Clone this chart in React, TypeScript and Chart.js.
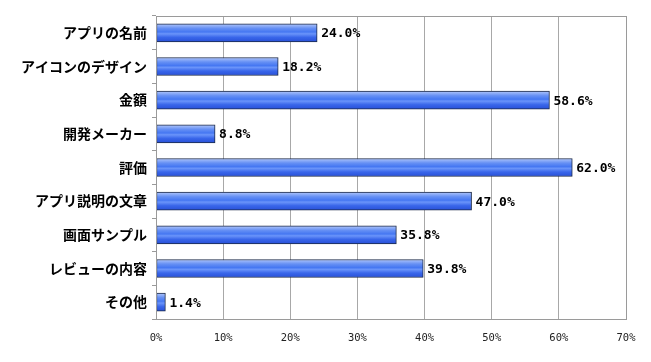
import React, { useEffect, useRef } from "react";
import { Chart, registerables } from "chart.js";

Chart.register(...registerables);

const categories = [
  "アプリの名前",
  "アイコンのデザイン",
  "金額",
  "開発メーカー",
  "評価",
  "アプリ説明の文章",
  "画面サンプル",
  "レビューの内容",
  "その他",
];
const values = [24.0, 18.2, 58.6, 8.8, 62.0, 47.0, 35.8, 39.8, 1.4];
const xTicksMax = 70;
const xTickStep = 10;

const BAR_T = 18;

const frame = {
  id: "frame",
  afterDraw(chart: any) {
    const { ctx, chartArea: a } = chart;
    ctx.save();
    ctx.strokeStyle = "#9a9a9a";
    ctx.lineWidth = 1;
    ctx.strokeRect(Math.round(a.left) + 0.5, Math.round(a.top) + 0.5, Math.round(a.right - a.left), Math.round(a.bottom - a.top));
    ctx.restore();
  },
};

const valueLabels = {
  id: "valueLabels",
  afterDatasetsDraw(chart: any) {
    const { ctx } = chart;
    const meta = chart.getDatasetMeta(0);
    ctx.save();
    ctx.fillStyle = "#000";
    ctx.font = "bold 13px 'DejaVu Sans Mono'";
    ctx.textAlign = "left";
    ctx.textBaseline = "middle";
    meta.data.forEach((bar: any, i: number) => {
      ctx.fillText(values[i].toFixed(1) + "%", bar.x + 4, bar.y + 1);
    });
    ctx.restore();
  },
};

export default function App() {
  const ref = useRef<HTMLCanvasElement>(null);
  useEffect(() => {
    const chart = new Chart(ref.current!, {
      type: "bar",
      data: {
        labels: categories,
        datasets: [
          {
            data: values,
            barThickness: BAR_T,
            borderColor: "#1c2a48",
            borderWidth: 1,
            borderSkipped: false,
            backgroundColor: (c: any) => {
              const ch = c.chart;
              const y = ch.scales?.y;
              if (!y || c.dataIndex === undefined) return "#4a78ee";
              const cy = y.getPixelForValue(c.dataIndex);
              if (!isFinite(cy)) return "#4a78ee";
              const g = ch.ctx.createLinearGradient(0, cy - BAR_T / 2, 0, cy + BAR_T / 2);
              g.addColorStop(0, "#b0c6fb");
              g.addColorStop(0.25, "#6690f4");
              g.addColorStop(0.45, "#4577f2");
              g.addColorStop(0.55, "#6a94fa");
              g.addColorStop(0.75, "#3966ea");
              g.addColorStop(1, "#2850d8");
              return g;
            },
          },
        ],
      },
      options: {
        indexAxis: "y",
        animation: false,
        responsive: true,
        maintainAspectRatio: false,
        layout: { padding: { top: 16, right: 25, left: 0, bottom: 0 } },
        plugins: { legend: { display: false }, tooltip: { enabled: false } },
        scales: {
          y: {
            afterFit: (s: any) => {
              s.width = 156;
            },
            grid: { drawOnChartArea: false, drawTicks: true, tickLength: 4, color: "#9a9a9a", offset: true },
            border: { color: "#9a9a9a" },
            ticks: {
              padding: 5,
              color: "#000",
              font: { family: "'Noto Sans CJK JP'", size: 14, weight: "bold" },
            },
          },
          x: {
            min: 0,
            max: xTicksMax,
            afterFit: (s: any) => {
              s.height = 43;
            },
            grid: { color: "#a8a8a8", drawTicks: false },
            border: { color: "#9a9a9a" },
            ticks: {
              stepSize: xTickStep,
              padding: 13,
              color: "#222",
              font: { family: "'DejaVu Sans Mono'", size: 10.5 },
              callback: (v: any) => v + "%",
            },
          },
        },
      },
      plugins: [frame, valueLabels],
    } as any);
    return () => chart.destroy();
  }, []);
  return (
    <div style={{ position: "absolute", left: 0, top: 0, width: 651, height: 362, background: "#fff" }}>
      <canvas ref={ref} />
    </div>
  );
}
